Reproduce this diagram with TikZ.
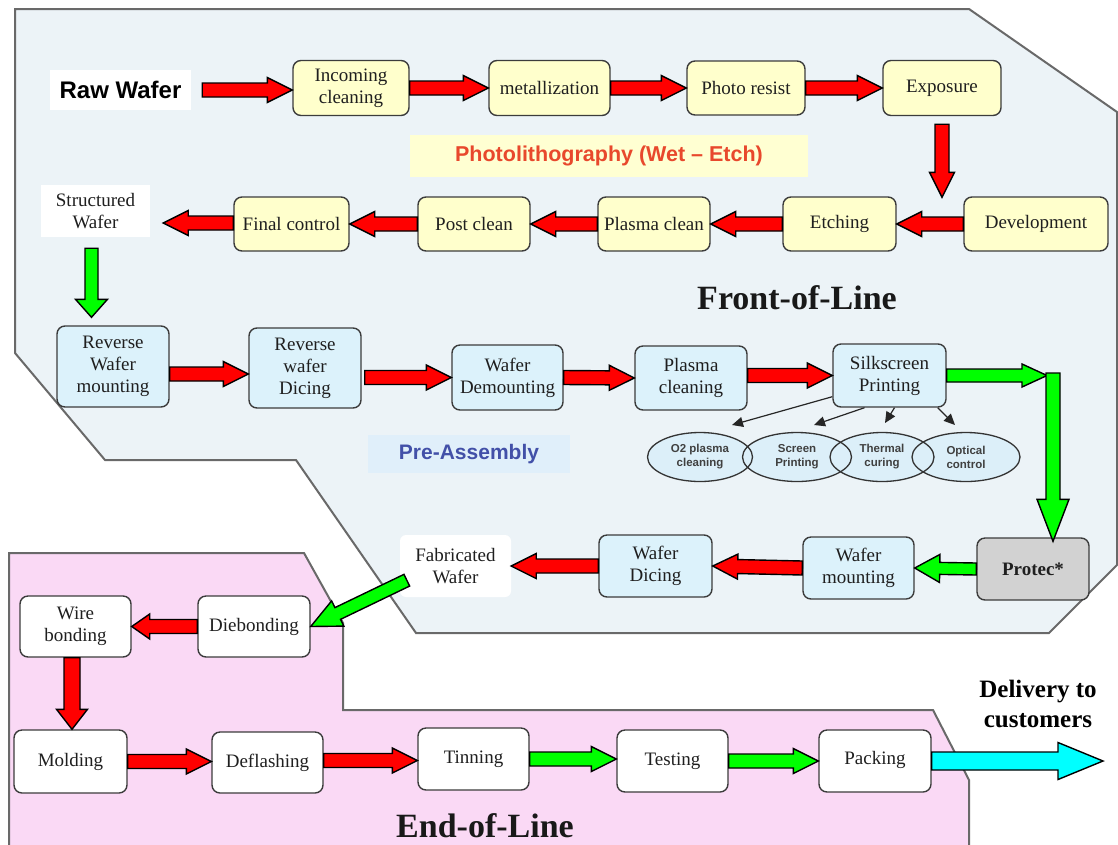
\documentclass[tikz,border=0pt]{standalone}
\usepackage{fontspec}
\setmainfont{Liberation Serif}
\setsansfont{Liberation Sans}
\usetikzlibrary{calc,shapes.geometric,arrows.meta}

\definecolor{frontfill}{RGB}{236,243,247}
\definecolor{endfill}{RGB}{250,217,245}
\definecolor{regionline}{RGB}{105,105,105}
\definecolor{boxline}{RGB}{60,60,60}
\definecolor{yellowfill}{RGB}{255,255,204}
\definecolor{bluefill}{RGB}{220,242,251}
\definecolor{ellfill}{RGB}{220,239,249}
\definecolor{protecfill}{RGB}{210,210,210}
\definecolor{photobg}{RGB}{255,255,210}
\definecolor{photored}{RGB}{232,72,44}
\definecolor{prebg}{RGB}{224,239,250}
\definecolor{preblue}{RGB}{66,80,168}
\definecolor{arrowred}{RGB}{255,0,0}
\definecolor{arrowgreen}{RGB}{0,255,0}
\definecolor{arrowcyan}{RGB}{0,255,255}

\newcommand\bxfont{\fontsize{19}{22}\selectfont}

% block arrow geometry: half shaft width, half head width, head length
\def\bas{7pt}\def\baH{12.5pt}\def\bah{25pt}
\tikzset{
  shaft/.code={\def\bas{#1}},
  headw/.code={\def\baH{#1}},
  headl/.code={\def\bah{#1}},
  blockarrow/.style={draw=black, line width=1.4pt, line join=miter, to path={
    ($(\tikztostart)!\bas!90:(\tikztotarget)$)
    -- ($(\tikztotarget)!\bah!(\tikztostart)!\bas!-90:(\tikztostart)$)
    -- ($(\tikztotarget)!\bah!(\tikztostart)!\baH!-90:(\tikztostart)$)
    -- (\tikztotarget)
    -- ($(\tikztotarget)!\bah!(\tikztostart)!\baH!90:(\tikztostart)$)
    -- ($(\tikztotarget)!\bah!(\tikztostart)!\bas!90:(\tikztostart)$)
    -- ($(\tikztostart)!\bas!-90:(\tikztotarget)$) -- cycle}},
  redarrow/.style={blockarrow, fill=arrowred},
  greenarrow/.style={blockarrow, fill=arrowgreen},
  cyanarrow/.style={blockarrow, fill=arrowcyan},
  thinarr/.style={draw=black!85, line width=1.2pt, -{Triangle[length=11pt,width=10pt]}},
  sz/.style 2 args={minimum width=#1, minimum height=#2},
  box/.style={rectangle, rounded corners=8pt, draw=boxline, line width=1.4pt,
    inner sep=0pt, align=center, font=\bxfont, text=black!88},
  ybox/.style={box, fill=yellowfill},
  bbox/.style={box, fill=bluefill},
  wbox/.style={box, fill=white},
  plainlabel/.style={inner sep=0pt, align=center, font=\bxfont, text=black!88},
  ell/.style={ellipse, draw=black!80, line width=1.3pt, inner sep=0pt, align=center,
    font=\sffamily\bfseries\fontsize{11.5}{14}\selectfont, text=black!75},
  regionline/.style={draw=regionline, line width=2pt, line join=miter},
  title/.style={font=\bfseries\fontsize{34}{36}\selectfont, text=black!90}
}

\begin{document}
\begin{tikzpicture}[x=1pt,y=-1pt]
\useasboundingbox (0,0) rectangle (1118,844);
\fill[white] (0,0) rectangle (1118,844);

% process areas
\draw[regionline, fill=frontfill] (15,9) -- (969,9) -- (1117,112) -- (1117,565)
  -- (1049,633) -- (416,633) -- (296,460) -- (105,460) -- (15,353) -- cycle;
\draw[regionline, fill=endfill] (9,553) -- (304,553) -- (343,623) -- (343,710)
  -- (933,710) -- (969,780) -- (969,860) -- (9,860) -- cycle;

% area labels
\node[fill=photobg, sz={398}{42}, inner sep=0pt, text=photored,
  font=\sffamily\bfseries\fontsize{21.5}{24}\selectfont] (phl) at (609,156) {Photolithography (Wet – Etch)};
\node[fill=prebg, sz={202}{38}, inner sep=0pt, text=preblue,
  font=\sffamily\bfseries\fontsize{21}{24}\selectfont] (pre) at (469,454) {Pre-Assembly};
\node[title] (fol) at (797,298) {Front-of-Line};
\node[title] (eol) at (485,826) {End-of-Line};
\node[align=center, font=\bfseries\fontsize{25}{30}\selectfont] (dlv) at (1038,704) {Delivery to\\customers};

% row 1
\node[fill=white, sz={141}{40}, inner sep=0pt, font=\sffamily\bfseries\fontsize{24}{28}\selectfont] (raw) at (120.5,90) {Raw Wafer};
\node[ybox, sz={116}{55}] (inc) at (351,88) {Incoming\\cleaning};
\node[ybox, sz={121}{55}] (met) at (549.5,88) {metallization};
\node[ybox, sz={118}{54}] (pho) at (746,88) {Photo resist};
\node[ybox, sz={118}{55}] (exp) at (942,88) {Exposure};

% row 2
\node[ybox, sz={144}{54}] (dev) at (1036,224) {Development};
\node[ybox, sz={113}{54}] (etc) at (839.5,224) {Etching};
\node[ybox, sz={112}{54}] (plc) at (654,224) {Plasma clean};
\node[ybox, sz={112}{54}] (pcl) at (474,224) {Post clean};
\node[ybox, sz={115}{54}] (fin) at (291.5,224) {Final control};
\node[plainlabel, fill=white, sz={109}{52}] (stw) at (95.5,211) {Structured\\Wafer};

% row 3
\node[bbox, sz={112}{81}] (rwm) at (113,366.5) {Reverse\\Wafer\\mounting};
\node[bbox, sz={112}{80}] (rwd) at (305,368) {Reverse\\wafer\\Dicing};
\node[bbox, sz={111}{65}] (wdm) at (507.5,377.5) {Wafer\\Demounting};
\node[bbox, sz={112}{64}] (pcg) at (691,378) {Plasma\\cleaning};
\node[bbox, sz={113}{63}] (sp) at (889.5,375.5) {Silkscreen\\Printing};

% silkscreen sub-steps
\foreach \cx/\w in {700/105, 797/109, 882/104, 966/108}
  \fill[ellfill] (\cx,457) ellipse [x radius=\w/2, y radius=24.5];
\node[ell, sz={105}{49}] (o2) at (700,457) {O2 plasma\\cleaning};
\node[ell, sz={109}{49}] (scr) at (797,457) {Screen\\Printing};
\node[ell, sz={104}{49}] (thc) at (882,457) {Thermal\\curing};
\node[ell, sz={108}{49}] (opt) at (966,457) {Optical\\control};

% row 4
\node[box, fill=protecfill, sz={112}{62}, font=\bfseries\bxfont] (pro) at (1033,569) {Protec*};
\node[bbox, sz={111}{62}] (wmo) at (858.5,568) {Wafer\\mounting};
\node[bbox, sz={113}{62}] (wdi) at (655.5,566) {Wafer\\Dicing};
\node[plainlabel, fill=white, rounded corners=6pt, sz={111}{62}] (fab) at (455.5,566) {Fabricated\\Wafer};

% row 5
\node[wbox, sz={111}{61}] (wbo) at (75.5,626.5) {Wire\\bonding};
\node[wbox, sz={112}{61}] (dib) at (254,626.5) {Diebonding};
\node[wbox, sz={113}{63}] (mol) at (70.5,761.5) {Molding};
\node[wbox, sz={111}{61}] (dfl) at (267.5,762.5) {Deflashing};
\node[wbox, sz={111}{62}] (tin) at (473.5,759) {Tinning};
\node[wbox, sz={111}{62}] (tst) at (672.5,761) {Testing};
\node[wbox, sz={112}{62}] (pck) at (875,761) {\raisebox{6pt}{Packing}};

% free arrow ends
\coordinate (rawout) at ($(raw.east)+(11,0)$);
\coordinate (expout) at ($(exp.south)+(0,8)$);
\coordinate (devin) at ($(dev.north west)+(-22,1)$);
\coordinate (stwin) at ($(stw.east |- fin.west)+(13,-1)$);
\coordinate (stwout) at ($(stw.south)+(-4,11)$);
\coordinate (rwmin) at ($(rwm.north)+(-21,-8)$);
\coordinate (rwmout) at ($(rwm.east)+(0,7.5)$);
\coordinate (rwdin) at ($(rwd.west)+(0,6)$);
\coordinate (rwdout) at ($(rwd.east)+(3,9.5)$);
\coordinate (turn) at (1047,375.5);
\coordinate (turndown) at (1053,373);
\coordinate (proin) at ($(pro.north)+(20,4)$);
\coordinate (fabout) at ($(fab.south west)+(7,-17)$);
\coordinate (wboout) at ($(wbo.south)+(-3.5,0)$);
\coordinate (molin) at ($(mol.north)+(1.5,0)$);
\coordinate (dflout) at ($(dfl.east)+(0,-2)$);
\coordinate (tinin) at ($(tin.west)+(0,1.5)$);
\coordinate (deliver) at (1103,761);

% row 1 flow
\draw[redarrow] (rawout) to (inc.west |- rawout);
\draw[redarrow] (inc.east) to (met.west);
\draw[redarrow] (met.east) to (pho.west);
\draw[redarrow] (pho.east) to (exp.west);
\draw[redarrow] (expout) to (expout |- devin);

% row 2 flow
\draw[redarrow] (dev.west) to (etc.east);
\draw[redarrow] (etc.west) to (plc.east);
\draw[redarrow] (plc.west) to (pcl.east);
\draw[redarrow] (pcl.west) to (fin.east);
\draw[redarrow] (fin.west |- stwin) to (stwin);
\draw[greenarrow, shaft=6.5pt, headw=16pt, headl=18pt] (stwout) to (stwout |- rwmin);

% row 3 flow
\draw[redarrow] (rwmout) to (rwmout -| rwdin);
\draw[redarrow] (rwdout) to (wdm.west);
\draw[redarrow] (wdm.east) to (pcg.west);
\draw[redarrow] (pcg.east |- sp.west) to (sp.west);
\draw[greenarrow, shaft=6.5pt, headw=11.5pt] (sp.east) to (turn);
\draw[greenarrow, headw=16pt, headl=42pt] (turndown) to (turndown |- proin);

% silkscreen sub-steps
\draw[thinarr] ($(sp.south west)+(0,-11)$) to ($(o2.center)+(32,-32)$);
\draw[thinarr] ($(sp.south)+(-25,0)$) to ($(scr.center)+(17,-32)$);
\draw[thinarr] ($(sp.south)+(5,0)$) to ($(thc.center)+(3,-34)$);
\draw[thinarr] ($(sp.south east)+(-9,0)$) to ($(opt.center)+(-11,-32)$);

% row 4 flow
\draw[greenarrow, shaft=6pt, headw=14pt] (pro.west) to (wmo.east);
\draw[redarrow] (wmo.west) to (wdi.east);
\draw[redarrow] (wdi.west) to (fab.east);
\draw[greenarrow, shaft=6.5pt, headw=14pt, headl=30pt] (fabout) to (dib.east);

% row 5 flow
\draw[redarrow, headl=18pt] (dib.west) to (wbo.east);
\draw[redarrow, shaft=8pt, headw=15.5pt, headl=20pt] (wboout) to (molin);
\draw[redarrow] (mol.east) to (mol.east -| dfl.west);
\draw[redarrow] (dflout) to (tinin);
\draw[greenarrow] (tin.east) to (tin.east -| tst.west);
\draw[greenarrow] (tst.east) to (pck.west);
\draw[cyanarrow, shaft=9pt, headw=18.5pt, headl=45pt] (pck.east) to (deliver);
\end{tikzpicture}
\end{document}
